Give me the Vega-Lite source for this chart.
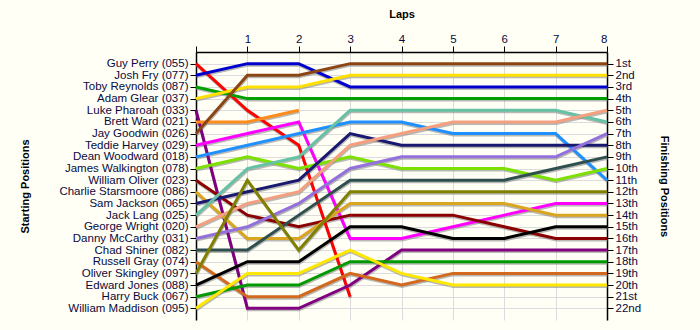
{
  "$schema": "https://vega.github.io/schema/vega-lite/v6.json",
  "autosize": "none",
  "width": 411,
  "height": 268,
  "padding": {"left": 196, "top": 52, "right": 93, "bottom": 10},
  "background": "#FFFFF6",
  "config": {
    "view": {"stroke": null},
    "font": "Liberation Sans",
    "axis": {
      "labelFont": "Liberation Sans",
      "labelFontSize": 11.5,
      "labelColor": "#0A0A40",
      "labelOverlap": false,
      "labelBound": false,
      "titleFont": "Liberation Sans",
      "titleFontSize": 11,
      "titleFontWeight": "bold",
      "titleColor": "#000000",
      "domainColor": "#000000",
      "domainWidth": 1.5,
      "tickColor": "#000000",
      "tickSize": 6,
      "gridColor": "#DCDCDC",
      "gridWidth": 1
    }
  },
  "data": {"values": [
    {"driver":"Guy Perry (055)","lap":0,"position":1},{"driver":"Guy Perry (055)","lap":1,"position":5},{"driver":"Guy Perry (055)","lap":2,"position":8},{"driver":"Guy Perry (055)","lap":3,"position":21},
    {"driver":"Josh Fry (077)","lap":0,"position":2},{"driver":"Josh Fry (077)","lap":1,"position":1},{"driver":"Josh Fry (077)","lap":2,"position":1},{"driver":"Josh Fry (077)","lap":3,"position":3},{"driver":"Josh Fry (077)","lap":4,"position":3},{"driver":"Josh Fry (077)","lap":5,"position":3},{"driver":"Josh Fry (077)","lap":6,"position":3},{"driver":"Josh Fry (077)","lap":7,"position":3},{"driver":"Josh Fry (077)","lap":8,"position":3},
    {"driver":"Toby Reynolds (087)","lap":0,"position":3},{"driver":"Toby Reynolds (087)","lap":1,"position":4},{"driver":"Toby Reynolds (087)","lap":2,"position":4},{"driver":"Toby Reynolds (087)","lap":3,"position":4},{"driver":"Toby Reynolds (087)","lap":4,"position":4},{"driver":"Toby Reynolds (087)","lap":5,"position":4},{"driver":"Toby Reynolds (087)","lap":6,"position":4},{"driver":"Toby Reynolds (087)","lap":7,"position":4},{"driver":"Toby Reynolds (087)","lap":8,"position":4},
    {"driver":"Adam Glear (037)","lap":0,"position":4},{"driver":"Adam Glear (037)","lap":1,"position":3},{"driver":"Adam Glear (037)","lap":2,"position":3},{"driver":"Adam Glear (037)","lap":3,"position":2},{"driver":"Adam Glear (037)","lap":4,"position":2},{"driver":"Adam Glear (037)","lap":5,"position":2},{"driver":"Adam Glear (037)","lap":6,"position":2},{"driver":"Adam Glear (037)","lap":7,"position":2},{"driver":"Adam Glear (037)","lap":8,"position":2},
    {"driver":"Luke Pharoah (033)","lap":0,"position":5},{"driver":"Luke Pharoah (033)","lap":1,"position":22},{"driver":"Luke Pharoah (033)","lap":2,"position":22},{"driver":"Luke Pharoah (033)","lap":3,"position":20},{"driver":"Luke Pharoah (033)","lap":4,"position":17},{"driver":"Luke Pharoah (033)","lap":5,"position":17},{"driver":"Luke Pharoah (033)","lap":6,"position":17},{"driver":"Luke Pharoah (033)","lap":7,"position":17},{"driver":"Luke Pharoah (033)","lap":8,"position":17},
    {"driver":"Brett Ward (021)","lap":0,"position":6},{"driver":"Brett Ward (021)","lap":1,"position":6},{"driver":"Brett Ward (021)","lap":2,"position":5},
    {"driver":"Jay Goodwin (026)","lap":0,"position":7},{"driver":"Jay Goodwin (026)","lap":1,"position":2},{"driver":"Jay Goodwin (026)","lap":2,"position":2},{"driver":"Jay Goodwin (026)","lap":3,"position":1},{"driver":"Jay Goodwin (026)","lap":4,"position":1},{"driver":"Jay Goodwin (026)","lap":5,"position":1},{"driver":"Jay Goodwin (026)","lap":6,"position":1},{"driver":"Jay Goodwin (026)","lap":7,"position":1},{"driver":"Jay Goodwin (026)","lap":8,"position":1},
    {"driver":"Teddie Harvey (029)","lap":0,"position":8},{"driver":"Teddie Harvey (029)","lap":1,"position":7},{"driver":"Teddie Harvey (029)","lap":2,"position":6},{"driver":"Teddie Harvey (029)","lap":3,"position":16},{"driver":"Teddie Harvey (029)","lap":4,"position":16},{"driver":"Teddie Harvey (029)","lap":5,"position":15},{"driver":"Teddie Harvey (029)","lap":6,"position":14},{"driver":"Teddie Harvey (029)","lap":7,"position":13},{"driver":"Teddie Harvey (029)","lap":8,"position":13},
    {"driver":"Dean Woodward (018)","lap":0,"position":9},{"driver":"Dean Woodward (018)","lap":1,"position":8},{"driver":"Dean Woodward (018)","lap":2,"position":7},{"driver":"Dean Woodward (018)","lap":3,"position":6},{"driver":"Dean Woodward (018)","lap":4,"position":6},{"driver":"Dean Woodward (018)","lap":5,"position":7},{"driver":"Dean Woodward (018)","lap":6,"position":7},{"driver":"Dean Woodward (018)","lap":7,"position":7},{"driver":"Dean Woodward (018)","lap":8,"position":11},
    {"driver":"James Walkington (078)","lap":0,"position":10},{"driver":"James Walkington (078)","lap":1,"position":9},{"driver":"James Walkington (078)","lap":2,"position":10},{"driver":"James Walkington (078)","lap":3,"position":9},{"driver":"James Walkington (078)","lap":4,"position":10},{"driver":"James Walkington (078)","lap":5,"position":10},{"driver":"James Walkington (078)","lap":6,"position":10},{"driver":"James Walkington (078)","lap":7,"position":11},{"driver":"James Walkington (078)","lap":8,"position":10},
    {"driver":"William Oliver (023)","lap":0,"position":11},{"driver":"William Oliver (023)","lap":1,"position":14},{"driver":"William Oliver (023)","lap":2,"position":15},{"driver":"William Oliver (023)","lap":3,"position":14},{"driver":"William Oliver (023)","lap":4,"position":14},{"driver":"William Oliver (023)","lap":5,"position":14},{"driver":"William Oliver (023)","lap":6,"position":15},{"driver":"William Oliver (023)","lap":7,"position":16},{"driver":"William Oliver (023)","lap":8,"position":16},
    {"driver":"Charlie Starsmoore (086)","lap":0,"position":12},{"driver":"Charlie Starsmoore (086)","lap":1,"position":16},{"driver":"Charlie Starsmoore (086)","lap":2,"position":16},{"driver":"Charlie Starsmoore (086)","lap":3,"position":13},{"driver":"Charlie Starsmoore (086)","lap":4,"position":13},{"driver":"Charlie Starsmoore (086)","lap":5,"position":13},{"driver":"Charlie Starsmoore (086)","lap":6,"position":13},{"driver":"Charlie Starsmoore (086)","lap":7,"position":14},{"driver":"Charlie Starsmoore (086)","lap":8,"position":14},
    {"driver":"Sam Jackson (065)","lap":0,"position":13},{"driver":"Sam Jackson (065)","lap":1,"position":12},{"driver":"Sam Jackson (065)","lap":2,"position":11},{"driver":"Sam Jackson (065)","lap":3,"position":7},{"driver":"Sam Jackson (065)","lap":4,"position":8},{"driver":"Sam Jackson (065)","lap":5,"position":8},{"driver":"Sam Jackson (065)","lap":6,"position":8},{"driver":"Sam Jackson (065)","lap":7,"position":8},{"driver":"Sam Jackson (065)","lap":8,"position":8},
    {"driver":"Jack Lang (025)","lap":0,"position":14},{"driver":"Jack Lang (025)","lap":1,"position":10},{"driver":"Jack Lang (025)","lap":2,"position":9},{"driver":"Jack Lang (025)","lap":3,"position":5},{"driver":"Jack Lang (025)","lap":4,"position":5},{"driver":"Jack Lang (025)","lap":5,"position":5},{"driver":"Jack Lang (025)","lap":6,"position":5},{"driver":"Jack Lang (025)","lap":7,"position":5},{"driver":"Jack Lang (025)","lap":8,"position":6},
    {"driver":"George Wright (020)","lap":0,"position":15},{"driver":"George Wright (020)","lap":1,"position":13},{"driver":"George Wright (020)","lap":2,"position":12},{"driver":"George Wright (020)","lap":3,"position":8},{"driver":"George Wright (020)","lap":4,"position":7},{"driver":"George Wright (020)","lap":5,"position":6},{"driver":"George Wright (020)","lap":6,"position":6},{"driver":"George Wright (020)","lap":7,"position":6},{"driver":"George Wright (020)","lap":8,"position":5},
    {"driver":"Danny McCarthy (031)","lap":0,"position":16},{"driver":"Danny McCarthy (031)","lap":1,"position":15},{"driver":"Danny McCarthy (031)","lap":2,"position":13},{"driver":"Danny McCarthy (031)","lap":3,"position":10},{"driver":"Danny McCarthy (031)","lap":4,"position":9},{"driver":"Danny McCarthy (031)","lap":5,"position":9},{"driver":"Danny McCarthy (031)","lap":6,"position":9},{"driver":"Danny McCarthy (031)","lap":7,"position":9},{"driver":"Danny McCarthy (031)","lap":8,"position":7},
    {"driver":"Chad Shiner (082)","lap":0,"position":17},{"driver":"Chad Shiner (082)","lap":1,"position":17},{"driver":"Chad Shiner (082)","lap":2,"position":14},{"driver":"Chad Shiner (082)","lap":3,"position":11},{"driver":"Chad Shiner (082)","lap":4,"position":11},{"driver":"Chad Shiner (082)","lap":5,"position":11},{"driver":"Chad Shiner (082)","lap":6,"position":11},{"driver":"Chad Shiner (082)","lap":7,"position":10},{"driver":"Chad Shiner (082)","lap":8,"position":9},
    {"driver":"Russell Gray (074)","lap":0,"position":18},{"driver":"Russell Gray (074)","lap":1,"position":21},{"driver":"Russell Gray (074)","lap":2,"position":21},{"driver":"Russell Gray (074)","lap":3,"position":19},{"driver":"Russell Gray (074)","lap":4,"position":20},{"driver":"Russell Gray (074)","lap":5,"position":19},{"driver":"Russell Gray (074)","lap":6,"position":19},{"driver":"Russell Gray (074)","lap":7,"position":19},{"driver":"Russell Gray (074)","lap":8,"position":19},
    {"driver":"Oliver Skingley (097)","lap":0,"position":19},{"driver":"Oliver Skingley (097)","lap":1,"position":11},{"driver":"Oliver Skingley (097)","lap":2,"position":17},{"driver":"Oliver Skingley (097)","lap":3,"position":12},{"driver":"Oliver Skingley (097)","lap":4,"position":12},{"driver":"Oliver Skingley (097)","lap":5,"position":12},{"driver":"Oliver Skingley (097)","lap":6,"position":12},{"driver":"Oliver Skingley (097)","lap":7,"position":12},{"driver":"Oliver Skingley (097)","lap":8,"position":12},
    {"driver":"Edward Jones (088)","lap":0,"position":20},{"driver":"Edward Jones (088)","lap":1,"position":18},{"driver":"Edward Jones (088)","lap":2,"position":18},{"driver":"Edward Jones (088)","lap":3,"position":15},{"driver":"Edward Jones (088)","lap":4,"position":15},{"driver":"Edward Jones (088)","lap":5,"position":16},{"driver":"Edward Jones (088)","lap":6,"position":16},{"driver":"Edward Jones (088)","lap":7,"position":15},{"driver":"Edward Jones (088)","lap":8,"position":15},
    {"driver":"Harry Buck (067)","lap":0,"position":21},{"driver":"Harry Buck (067)","lap":1,"position":20},{"driver":"Harry Buck (067)","lap":2,"position":20},{"driver":"Harry Buck (067)","lap":3,"position":18},{"driver":"Harry Buck (067)","lap":4,"position":18},{"driver":"Harry Buck (067)","lap":5,"position":18},{"driver":"Harry Buck (067)","lap":6,"position":18},{"driver":"Harry Buck (067)","lap":7,"position":18},{"driver":"Harry Buck (067)","lap":8,"position":18},
    {"driver":"William Maddison (095)","lap":0,"position":22},{"driver":"William Maddison (095)","lap":1,"position":19},{"driver":"William Maddison (095)","lap":2,"position":19},{"driver":"William Maddison (095)","lap":3,"position":17},{"driver":"William Maddison (095)","lap":4,"position":19},{"driver":"William Maddison (095)","lap":5,"position":20},{"driver":"William Maddison (095)","lap":6,"position":20},{"driver":"William Maddison (095)","lap":7,"position":20},{"driver":"William Maddison (095)","lap":8,"position":20}
  ]},
  "resolve": {"scale": {"y": "shared", "x": "shared"}, "axis": {"y": "independent", "x": "independent"}},
  "layer": [
    {
      "mark": {"type": "line", "strokeWidth": 3, "color": "#888888", "opacity": 0.6, "yOffset": 1.5, "xOffset": 0.5},
      "encoding": {
        "x": {"field": "lap", "type": "quantitative", "scale": {"domain": [0, 8], "nice": false, "zero": false},
              "axis": {"orient": "top", "title": "Laps", "values": [0,1,2,3,4,5,6,7,8], "labelExpr": "datum.value == 0 ? '' : datum.value", "grid": true, "titlePadding": 14, "labelPadding": 2}},
        "y": {"field": "position", "type": "quantitative", "scale": {"domain": [0, 23], "reverse": true, "nice": false, "zero": false},
              "axis": {"orient": "right", "title": "Finishing Positions", "titleAngle": 90, "titlePadding": 18, "grid": true,
                       "values": [1,2,3,4,5,6,7,8,9,10,11,12,13,14,15,16,17,18,19,20,21,22],
                       "labelExpr": "['','1st','2nd','3rd','4th','5th','6th','7th','8th','9th','10th','11th','12th','13th','14th','15th','16th','17th','18th','19th','20th','21st','22nd'][datum.value]",
                       "labelPadding": 2}},
        "detail": {"field": "driver"}
      }
    },
    {
      "mark": {"type": "line", "strokeWidth": 3},
      "encoding": {
        "x": {"field": "lap", "type": "quantitative", "axis": null},
        "y": {"field": "position", "type": "quantitative",
              "axis": {"orient": "left", "title": "Starting Positions", "titlePadding": 28, "grid": false,
                       "values": [1,2,3,4,5,6,7,8,9,10,11,12,13,14,15,16,17,18,19,20,21,22],
                       "labelExpr": "['','Guy Perry (055)','Josh Fry (077)','Toby Reynolds (087)','Adam Glear (037)','Luke Pharoah (033)','Brett Ward (021)','Jay Goodwin (026)','Teddie Harvey (029)','Dean Woodward (018)','James Walkington (078)','William Oliver (023)','Charlie Starsmoore (086)','Sam Jackson (065)','Jack Lang (025)','George Wright (020)','Danny McCarthy (031)','Chad Shiner (082)','Russell Gray (074)','Oliver Skingley (097)','Edward Jones (088)','Harry Buck (067)','William Maddison (095)'][datum.value]",
                       "labelPadding": 2}},
        "color": {"field": "driver", "type": "nominal", "legend": null,
                  "scale": {"domain": ["Guy Perry (055)","Josh Fry (077)","Toby Reynolds (087)","Adam Glear (037)","Luke Pharoah (033)","Brett Ward (021)","Jay Goodwin (026)","Teddie Harvey (029)","Dean Woodward (018)","James Walkington (078)","William Oliver (023)","Charlie Starsmoore (086)","Sam Jackson (065)","Jack Lang (025)","George Wright (020)","Danny McCarthy (031)","Chad Shiner (082)","Russell Gray (074)","Oliver Skingley (097)","Edward Jones (088)","Harry Buck (067)","William Maddison (095)"],
                            "range": ["#FF0000","#0000CD","#00A000","#FFE000","#800080","#FF8C1A","#8B4513","#FF00FF","#1E90FF","#7CE000","#8B0000","#DAA520","#191970","#66C2A5","#F4A080","#9370DB","#2F4F4F","#D2691E","#808000","#000000","#009900","#FFE800"]}}
      }
    }
  ]
}
